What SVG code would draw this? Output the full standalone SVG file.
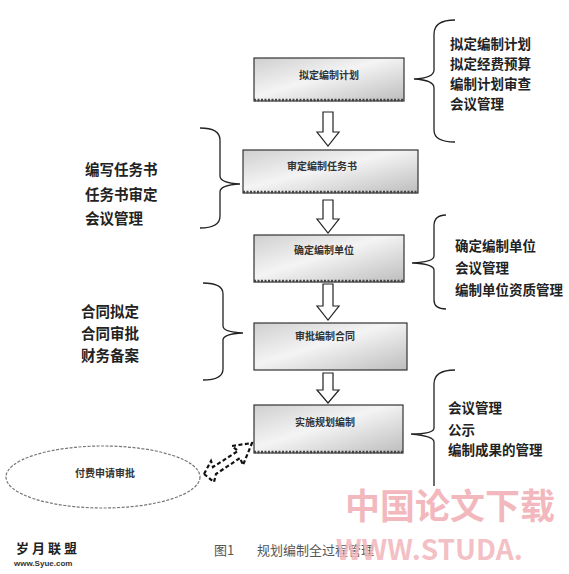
<svg xmlns="http://www.w3.org/2000/svg" width="569" height="574" viewBox="0 0 569 574">
<defs>
<linearGradient id="g" x1="0" y1="0" x2="1" y2="1">
<stop offset="0" stop-color="#cfcfcf"/>
<stop offset="0.45" stop-color="#f4f4f4"/>
<stop offset="1" stop-color="#bdbdbd"/>
</linearGradient>
<style>
.box{fill:url(#g);stroke:#333;stroke-width:1.2}
.shadow{fill:none;stroke:#444;stroke-width:2.5;stroke-dasharray:2 1.5}
.bt{font-family:"Noto Sans CJK SC","Noto Sans",sans-serif;font-size:10px;font-weight:bold;fill:#333;text-anchor:middle}
.lt{font-family:"Noto Sans CJK SC","Noto Sans",sans-serif;font-size:13.5px;font-weight:bold;fill:#222;dominant-baseline:central}
.ll{font-size:14.5px}
.arr{fill:#fff;stroke:#222;stroke-width:1.2}
.brace{fill:none;stroke:#222;stroke-width:1.3}
.cap{font-family:"Noto Sans CJK SC","Noto Sans",sans-serif;fill:#555}
.wm{font-family:"Noto Sans CJK SC","Liberation Sans",sans-serif;font-weight:bold;fill:#f2b8bd}
</style>
</defs>
<rect width="569" height="574" fill="#fff"/>

<g id="connectors">
<path class="arr" d="M323,112 H333 V132 H339 L328,146 L317,132 H323 Z"/>
<path class="arr" d="M323,200 H333 V219 H339 L328,233 L317,219 H323 Z"/>
<path class="arr" d="M323,284 H333 V306 H339 L328,320 L317,306 H323 Z"/>
<path class="arr" d="M323,373 H333 V390 H339 L328,403 L317,390 H323 Z"/>
<path d="M204,474 L214,482 L216,474 L240,458 L243,465 L252,443 L232,446 L238,451 L213,467 L211,461 Z" fill="#fff" stroke="#111" stroke-width="2.2" stroke-dasharray="4 2.5"/>
</g>

<g id="node1">
<rect class="box" x="254" y="58" width="150" height="43"/>
<line class="shadow" x1="254" y1="100" x2="404" y2="100"/>
<text class="bt" x="329" y="79">拟定编制计划</text>
</g>
<g id="node2">
<rect class="box" x="243" y="150" width="175" height="43"/>
<line class="shadow" x1="243" y1="192" x2="418" y2="192"/>
<text class="bt" x="322" y="170">审定编制任务书</text>
</g>
<g id="node3">
<rect class="box" x="254" y="235" width="150" height="47"/>
<line class="shadow" x1="254" y1="281" x2="404" y2="281"/>
<text class="bt" x="324" y="254">确定编制单位</text>
</g>
<g id="node4">
<rect class="box" x="254" y="323" width="153" height="47"/>
<text class="bt" x="325" y="340">审批编制合同</text>
</g>
<g id="node5">
<rect class="box" x="254" y="405" width="149" height="48"/>
<line class="shadow" x1="254" y1="452" x2="403" y2="452"/>
<text class="bt" x="325" y="426">实施规划编制</text>
</g>
<g id="node6">
<ellipse cx="103" cy="477" rx="97" ry="31" fill="#fff" stroke="#777" stroke-width="1.2" stroke-dasharray="3 1.5"/>
<text class="bt" x="105" y="477">付费申请审批</text>
</g>

<g id="brace1">
<path class="brace" d="M455,20 Q434,20 434,34 V70 Q434,78 414,79 Q434,80 434,88 V130 Q434,142 455,142"/>
<text class="lt" x="450" y="43">拟定编制计划</text>
<text class="lt" x="450" y="63">拟定经费预算</text>
<text class="lt" x="450" y="83">编制计划审查</text>
<text class="lt" x="450" y="103">会议管理</text>
</g>
<g id="brace2">
<path class="brace" d="M200,128 Q220,128 220,140 V176 Q220,183 240,184 Q220,185 220,192 V216 Q220,228 200,228"/>
<text class="lt ll" x="85" y="168">编写任务书</text>
<text class="lt ll" x="85" y="193">任务书审定</text>
<text class="lt ll" x="85" y="217">会议管理</text>
</g>
<g id="brace3">
<path class="brace" d="M446,215 Q434,215 434,226 V256 Q434,262 412,263 Q434,264 434,270 V300 Q434,309 446,309"/>
<text class="lt" x="455" y="245">确定编制单位</text>
<text class="lt" x="455" y="267">会议管理</text>
<text class="lt" x="455" y="289">编制单位资质管理</text>
</g>
<g id="brace4">
<path class="brace" d="M203,283 Q223,283 223,294 V326 Q223,332 243,333 Q223,334 223,340 V369 Q223,380 203,380"/>
<text class="lt ll" x="81" y="310">合同拟定</text>
<text class="lt ll" x="81" y="332">合同审批</text>
<text class="lt ll" x="81" y="354">财务备案</text>
</g>
<g id="brace5">
<path class="brace" d="M455,370 Q434,370 434,384 V428 Q434,434 411,434 Q434,436 434,442 V486"/>
<text class="lt" x="448" y="407">会议管理</text>
<text class="lt" x="448" y="429">公示</text>
<text class="lt" x="448" y="449">编制成果的管理</text>
</g>

<text class="cap" x="214" y="555" font-size="13">图1</text>
<text class="cap" x="257" y="555" font-size="13">规划编制全过程管理</text>
<text class="wm" x="345" y="519" font-size="35">中国论文下载</text>
<text class="wm" x="336" y="560" font-size="28" fill-opacity="0.9">WWW.STUDA.</text>
<text x="16" y="553" font-family="'Noto Sans CJK SC',sans-serif" font-size="13" font-weight="bold" fill="#222" letter-spacing="3">岁月联盟</text>
<text x="14" y="566" font-family="'Liberation Sans',sans-serif" font-size="8" font-weight="bold" fill="#333">www.Syue.com</text>
</svg>
